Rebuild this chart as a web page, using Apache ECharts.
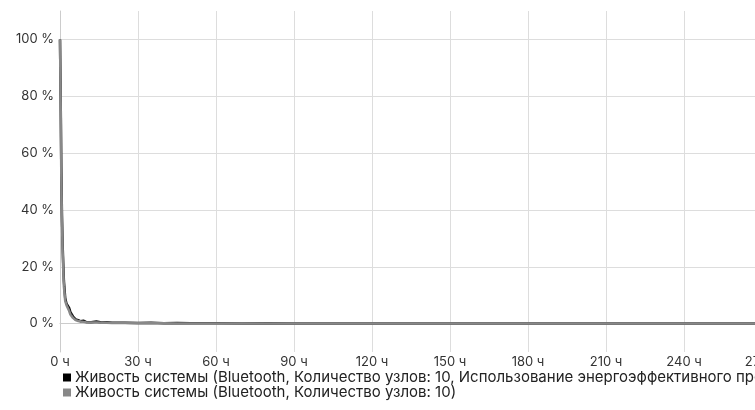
<!DOCTYPE html>
<html><head><meta charset="utf-8">
<script src="https://cdn.jsdelivr.net/npm/echarts@6/dist/echarts.min.js"></script>
<style>html,body{margin:0;padding:0;overflow:hidden;background:#fff}#c{width:900px;height:410px}</style>
</head><body><div id="c"></div>
<script>
const hours = [0, 0.25, 0.5, 0.75, 1, 1.25, 1.5, 2, 2.5, 3, 3.5, 4, 5, 6, 7, 8, 9, 10, 12, 14, 16, 18, 20, 25, 30, 35, 40, 45, 50, 60, 70, 80, 90, 100, 120, 140, 160, 180, 200, 220, 240, 260, 280, 300];
const seriesA = [100, 80, 55, 38, 28, 21, 15, 9, 7, 6.5, 5.5, 4, 2.5, 1.5, 1.2, 0.8, 1.0, 0.6, 0.5, 0.7, 0.4, 0.5, 0.3, 0.3, 0.2, 0.3, 0.1, 0.2, 0.1, 0.1, 0.05, 0.1, 0, 0.05, 0, 0, 0, 0, 0, 0, 0, 0, 0, 0];
const seriesB = [100, 78, 52, 36, 26, 19, 13, 8, 6.5, 5.8, 4.5, 3.2, 2, 1.2, 0.9, 0.7, 0.6, 0.5, 0.4, 0.4, 0.3, 0.3, 0.2, 0.2, 0.1, 0.1, 0.1, 0.05, 0, 0, 0, 0, 0, 0, 0, 0, 0, 0, 0, 0, 0, 0, 0, 0];
const nameA = 'Живость системы (Bluetooth, Количество узлов: 10, Использование энергоэффективного протокола)';
const nameB = 'Живость системы (Bluetooth, Количество узлов: 10)';
const yTicks = [0, 20, 40, 60, 80, 100];
const xTicks = [0, 30, 60, 90, 120, 150, 180, 210, 240, 270, 300];

const font = 'Inter, "Liberation Sans", Arial, sans-serif';
const chart = echarts.init(document.getElementById('c'), null, {renderer: 'canvas'});
chart.setOption({
  animation: false,
  textStyle: {fontFamily: font},
  grid: {left: 60, top: 11, right: 60, bottom: 58, containLabel: false},
  legend: {
    orient: 'vertical', left: 63, top: 370, itemGap: 0, padding: 0,
    itemWidth: 8, itemHeight: 8, icon: 'rect',
    textStyle: {fontSize: 15, color: '#222', fontFamily: font, padding: [0, 0, 0, -1]},
    data: [{name: nameA, itemStyle: {color: '#000'}}, {name: nameB, itemStyle: {color: '#888'}}]
  },
  xAxis: {
    type: 'value', min: 0, max: 300, interval: 30,
    axisLine: {show: true, lineStyle: {color: '#ccc'}},
    axisTick: {show: false},
    axisLabel: {fontSize: 13, color: '#333', margin: 4, formatter: v => v + ' ч'},
    splitLine: {show: true, lineStyle: {color: '#ddd', width: 1}}
  },
  yAxis: {
    type: 'value', min: -10, max: 110,
    axisLine: {show: true, lineStyle: {color: '#ccc'}},
    axisTick: {show: false, customValues: yTicks},
    axisLabel: {fontSize: 13, color: '#333', margin: 6, customValues: yTicks, formatter: v => v + ' %'},
    splitLine: {show: true, lineStyle: {color: '#ddd', width: 1}}
  },
  series: [
    {name: nameA, type: 'line', showSymbol: false, symbol: 'none', color: '#000',
     lineStyle: {width: 2.5, color: '#111'}, data: hours.map((h, i) => [h, seriesA[i]])},
    {name: nameB, type: 'line', showSymbol: false, symbol: 'none', color: '#888',
     lineStyle: {width: 2.5, color: '#888'}, data: hours.map((h, i) => [h, seriesB[i]])}
  ]
});
</script></body></html>
